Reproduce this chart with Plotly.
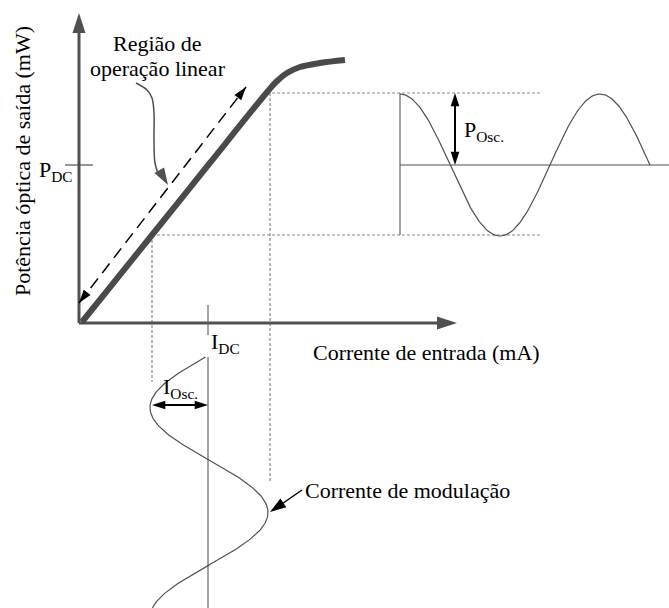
import numpy as np
import plotly.graph_objects as go

# ---------------- data (diagram units: 1 unit = 1 px, origin at the axes corner) ----------------
# Axes extents
axis_x_end = 378          # current axis tip
axis_y_end = 310          # power axis tip

# L-I characteristic (current, power)
li_current = [3, 73, 130, 189, 197, 208, 221, 241, 266]
li_power = [1, 88, 159, 232, 241, 250, 256, 260, 263]

# "linear operation region" dashed double arrow
lin_current = [0, 167]
lin_power = [20, 236]

# curved pointer from the label to the dashed arrow
ptr_current = [57, 68, 73, 75, 75, 76, 80, 89]
ptr_power = [240, 233, 225, 210, 183, 160, 147, 138]

# operating point / swing
i_min, i_dc, i_max = 73, 129, 191
p_min, p_dc, p_max = 88, 158, 230
dotted_h_end = 461
dotted_i_min_bottom = -59
dotted_i_max_bottom = -160
pdc_tick = [-14, 14]
idc_tick = [18, -12]

# modulation current (vertical sine below the axis)
mod_center = 130
mod_amp = 59
mod_period = 210
mod_y_start, mod_y_end = -34, -285
mod_phase_ref = -32

# output optical power (horizontal sine on the right)
out_x_start, out_x_end = 321, 571
out_line_end = 590
out_amp = 71
out_period = 200

# double arrows
iosc_y = -82
posc_x = 376

# ---------------- figure ----------------
fig = go.Figure()
DARK = "#505050"
GRAY = "#8a8a8a"
FONT = "Liberation Serif"


def line(x, y, color, width, dash=None, shape="linear"):
    fig.add_trace(go.Scatter(x=x, y=y, mode="lines",
                             line=dict(color=color, width=width, dash=dash, shape=shape),
                             hoverinfo="skip", showlegend=False))


def head(xt, yt, xf, yf, size, color):
    ang = float(np.degrees(np.arctan2(xt - xf, yt - yf)))
    fig.add_trace(go.Scatter(x=[xt], y=[yt], mode="markers",
                             marker=dict(symbol="arrow", size=size, angle=ang, color=color,
                                         line=dict(width=0)),
                             hoverinfo="skip", showlegend=False))


def text(x, y, s, size=22, xanchor="center", angle=0):
    fig.add_annotation(x=x, y=y, xref="x", yref="y", text=s, showarrow=False,
                       xanchor=xanchor, yanchor="middle", textangle=angle,
                       font=dict(family=FONT, size=size, color="black"))


# dotted guide lines
line([li_current[4] - 4, dotted_h_end], [p_max, p_max], GRAY, 1.2, dash="3px,2px")
line([i_min, dotted_h_end], [p_min, p_min], GRAY, 1.2, dash="3px,2px")
line([i_min, i_min], [p_min, dotted_i_min_bottom], GRAY, 1.2, dash="3px,2px")
line([i_max, i_max], [p_max, dotted_i_max_bottom], GRAY, 1.2, dash="3px,2px")

# axes
line([0, 0], [0, axis_y_end - 12], DARK, 3)
head(0, axis_y_end, 0, 0, 21, DARK)
line([0, axis_x_end - 12], [0, 0], DARK, 3)
head(axis_x_end, 0, 0, 0, 21, DARK)

# ticks
line(pdc_tick, [p_dc, p_dc], DARK, 1.2)
line([i_dc, i_dc], idc_tick, "#666666", 1.2)

# L-I curve
line(li_current, li_power, "#4a4a4a", 6, shape="spline")

# dashed double arrow (linear region)
line(lin_current, lin_power, "black", 1.5, dash="12px,7px")
head(lin_current[1], lin_power[1], lin_current[0], lin_power[0], 14, "black")
head(lin_current[0], lin_power[0], lin_current[1], lin_power[1], 14, "black")

# curved pointer
line(ptr_current[:-1], ptr_power[:-1], DARK, 1.5, shape="spline")
head(ptr_current[-1], ptr_power[-1], ptr_current[-3], ptr_power[-3], 18, DARK)

# modulation current
line([i_dc, i_dc], [mod_y_start, mod_y_end], "#666666", 1.2)
yy = np.linspace(mod_y_start, mod_y_end, 200)
xx = mod_center + mod_amp * np.sin(2 * np.pi * (yy - mod_phase_ref) / mod_period)
line(xx, yy, DARK, 1.2)

# output optical power
line([out_x_start, out_x_start], [p_max, p_min], "#666666", 1.2)
line([out_x_start, out_line_end], [p_dc, p_dc], DARK, 1.2)
xo = np.linspace(out_x_start, out_x_end, 200)
yo = p_dc + out_amp * np.cos(2 * np.pi * (xo - out_x_start) / out_period)
line(xo, yo, DARK, 1.2)

# I_Osc double arrow
line([i_min + 6, i_dc - 6], [iosc_y, iosc_y], "black", 2)
head(i_min, iosc_y, i_dc, iosc_y, 14, "black")
head(i_dc, iosc_y, i_min, iosc_y, 14, "black")

# P_Osc double arrow
line([posc_x, posc_x], [p_max - 6, p_dc + 6], "black", 2)
head(posc_x, p_max, posc_x, p_dc, 14, "black")
head(posc_x, p_dc, posc_x, p_max, 14, "black")

# modulation pointer
line([223, 197], [-167, -185], "black", 1.5)
head(191, -189, 223, -167, 17, "black")

# texts
text(-57, 162, "Potência óptica de saída (mW)", angle=-90)
text(78, 280, "Região de")
text(79, 255, "operação linear")
text(-4, 152, "P<sub>DC</sub>", xanchor="right")
text(130, -20, "I<sub>DC</sub>", xanchor="left")
text(347, -29, "Corrente de entrada (mA)")
text(101, -65, "I<sub>Osc.</sub>")
text(383, 192, "P<sub>Osc.</sub>", xanchor="left")
text(224, -167, "Corrente de modulação", xanchor="left")

fig.update_layout(
    width=669, height=608, autosize=False,
    margin=dict(l=0, r=0, t=0, b=0, pad=0),
    paper_bgcolor="white", plot_bgcolor="white",
    xaxis=dict(range=[-79, 590], visible=False, fixedrange=True),
    yaxis=dict(range=[-285, 323], visible=False, fixedrange=True),
    showlegend=False,
)

fig.write_html("out.html", config={"displayModeBar": False},
               post_script="document.body.style.margin='0';")
